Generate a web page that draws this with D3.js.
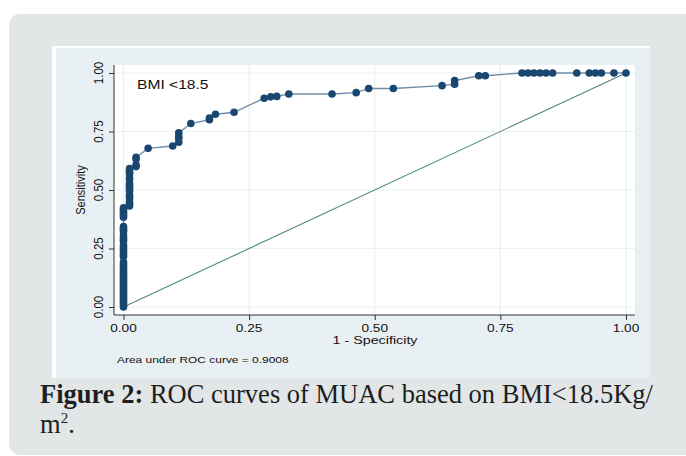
<!doctype html>
<html lang="en">
  <head>
    <meta charset="utf-8"/>
    <title>ROC curve of MUAC</title>
    <script src="https://d3js.org/d3.v7.min.js"></script>
    <style>
      body { margin: 0; background: #fff; }
      svg text { font-family: "Liberation Sans", Arial, sans-serif; fill: #111; }
      .caption { font-family: "Liberation Serif", "Times New Roman", serif; fill: #1e1e1e; }
    </style>
  </head>
  <body>
    <div id="chart"></div>
    <script>
      // ROC points: [1 - specificity, sensitivity]
      var rocPoints = [
        [0, 0], [0, 0.008], [0, 0.016], [0, 0.024], [0, 0.032], [0, 0.04], [0, 0.048],
        [0, 0.056], [0, 0.064], [0, 0.072], [0, 0.08], [0, 0.088], [0, 0.096], [0, 0.104],
        [0, 0.112], [0, 0.12], [0, 0.128], [0, 0.136], [0, 0.144], [0, 0.152], [0, 0.16],
        [0, 0.168], [0, 0.176], [0, 0.184], [0, 0.192], [0, 0.216], [0, 0.224], [0, 0.232],
        [0, 0.24], [0, 0.248], [0, 0.256], [0, 0.264], [0, 0.28], [0, 0.288], [0, 0.296],
        [0, 0.304], [0, 0.32], [0, 0.328], [0, 0.336], [0, 0.344], [0, 0.384], [0, 0.392],
        [0, 0.4], [0, 0.408], [0, 0.416], [0, 0.424],
        [0.012, 0.432], [0.012, 0.44], [0.012, 0.448], [0.012, 0.464], [0.012, 0.472],
        [0.012, 0.48], [0.012, 0.496], [0.012, 0.504], [0.012, 0.512], [0.012, 0.52],
        [0.012, 0.528], [0.012, 0.544], [0.012, 0.552], [0.012, 0.568], [0.012, 0.576],
        [0.012, 0.584], [0.012, 0.592],
        [0.025, 0.6], [0.025, 0.608], [0.025, 0.632], [0.025, 0.64],
        [0.049, 0.678], [0.098, 0.688], [0.11, 0.704], [0.11, 0.72], [0.11, 0.728],
        [0.11, 0.744], [0.134, 0.784], [0.171, 0.8], [0.171, 0.808], [0.183, 0.824],
        [0.22, 0.832], [0.28, 0.892], [0.293, 0.898], [0.305, 0.9], [0.329, 0.91],
        [0.415, 0.91], [0.463, 0.916], [0.488, 0.934], [0.537, 0.934], [0.634, 0.946],
        [0.659, 0.952], [0.659, 0.968], [0.707, 0.988], [0.72, 0.988], [0.793, 1],
        [0.805, 1], [0.817, 1], [0.829, 1], [0.841, 1], [0.854, 1], [0.902, 1],
        [0.927, 1], [0.939, 1], [0.951, 1], [0.976, 1], [1, 1]
      ];
      var refLine = [[0, 0], [1, 1]];
      var xTicks = [0, 0.25, 0.5, 0.75, 1];
      var yTicks = [0, 0.25, 0.5, 0.75, 1];
      var xTitle = "1 - Specificity";
      var yTitle = "Sensitivity";
      var curveLabel = "BMI <18.5";
      var aucNote = "Area under ROC curve = 0.9008";
      var captionBold = "Figure 2:";
      var captionRest = " ROC curves of MUAC based on BMI<18.5Kg/";

      var w = 686;
      var h = 456;
      var stretch = 1.3; // the figure is a little wider than tall

      var svg = d3.select("#chart")
            .append("svg")
            .attr("width", w)
            .attr("height", h);

      //Grey card behind figure + caption
      svg.append("rect")
        .attr("x", 9).attr("y", 14)
        .attr("width", 700).attr("height", 441)
        .attr("rx", 11)
        .attr("fill", "#e2e6e7");

      //Stata graph region
      svg.append("rect")
        .attr("x", 52).attr("y", 46)
        .attr("width", 598).attr("height", 332)
        .attr("fill", "#ffffff");
      svg.append("rect")
        .attr("x", 56).attr("y", 48)
        .attr("width", 594).attr("height", 330)
        .attr("fill", "#e9f0f3");

      //Plot region
      svg.append("rect")
        .attr("x", 114).attr("y", 65)
        .attr("width", 521).attr("height", 250)
        .attr("fill", "#ffffff");

      //Scales
      var xScale = d3.scaleLinear().domain([0, 1]).range([123.5, 626]);
      var yScale = d3.scaleLinear().domain([0, 1]).range([307, 73]);

      //Grid lines
      svg.selectAll("line.gx")
        .data(xTicks)
        .enter()
        .append("line")
        .attr("class", "gx")
        .attr("x1", function(d) { return xScale(d); })
        .attr("x2", function(d) { return xScale(d); })
        .attr("y1", 65).attr("y2", 315)
        .attr("stroke", "#eaf1f3")
        .attr("stroke-width", 1.2);
      svg.selectAll("line.gy")
        .data(yTicks)
        .enter()
        .append("line")
        .attr("class", "gy")
        .attr("x1", 114).attr("x2", 635)
        .attr("y1", function(d) { return yScale(d); })
        .attr("y2", function(d) { return yScale(d); })
        .attr("stroke", "#eaf1f3")
        .attr("stroke-width", 1.2);

      //Axes
      var xAxis = d3.axisBottom(xScale).tickValues(xTicks).tickSize(5).tickFormat("");
      var yAxis = d3.axisLeft(yScale).tickValues(yTicks).tickSize(5).tickFormat("");

      svg.append("g")
        .attr("transform", "translate(0,315)")
        .call(xAxis)
        .call(function(g) {
          g.select(".domain").attr("d", "M114,0H635").attr("stroke", "#333");
          g.selectAll(".tick line").attr("stroke", "#333");
        });
      svg.append("g")
        .attr("transform", "translate(114,0)")
        .call(yAxis)
        .call(function(g) {
          g.select(".domain").attr("d", "M0,65V315").attr("stroke", "#333");
          g.selectAll(".tick line").attr("stroke", "#333");
        });

      //Tick labels
      svg.selectAll("text.xt")
        .data(xTicks)
        .enter()
        .append("text")
        .attr("class", "xt")
        .attr("transform", function(d) {
          return "translate(" + xScale(d) + ",332) scale(" + stretch + ",1)";
        })
        .attr("text-anchor", "middle")
        .attr("font-size", "10.5px")
        .text(function(d) { return d3.format(".2f")(d); });

      svg.selectAll("text.yt")
        .data(yTicks)
        .enter()
        .append("text")
        .attr("class", "yt")
        .attr("transform", function(d) {
          return "translate(103," + yScale(d) + ") scale(1.1,1) rotate(-90)";
        })
        .attr("text-anchor", "middle")
        .attr("font-size", "11.5px")
        .text(function(d) { return d3.format(".2f")(d); });

      //Axis titles
      svg.append("text")
        .attr("transform", "translate(375,344) scale(" + stretch + ",1)")
        .attr("text-anchor", "middle")
        .attr("font-size", "11px")
        .text(xTitle);
      svg.append("text")
        .attr("transform", "translate(85,190) scale(1.1,1) rotate(-90)")
        .attr("text-anchor", "middle")
        .attr("font-size", "11px")
        .text(yTitle);

      //Reference diagonal
      var line = d3.line()
            .x(function(d) { return xScale(d[0]); })
            .y(function(d) { return yScale(d[1]); });

      svg.append("path")
        .datum(refLine)
        .attr("d", line)
        .attr("fill", "none")
        .attr("stroke", "#4f8a78")
        .attr("stroke-width", 1.1);

      //ROC curve
      svg.append("path")
        .datum(rocPoints)
        .attr("d", line)
        .attr("fill", "none")
        .attr("stroke", "#6f8daa")
        .attr("stroke-width", 1.4);

      svg.selectAll("circle")
        .data(rocPoints)
        .enter()
        .append("circle")
        .attr("cx", function(d) { return xScale(d[0]); })
        .attr("cy", function(d) { return yScale(d[1]); })
        .attr("r", 3.8)
        .attr("fill", "#1a476f");

      //Labels inside and under plot
      svg.append("text")
        .attr("transform", "translate(137,89) scale(" + stretch + ",1)")
        .attr("font-size", "12px")
        .text(curveLabel);
      svg.append("text")
        .attr("transform", "translate(117,363) scale(" + stretch + ",1)")
        .attr("font-size", "9.2px")
        .text(aucNote);

      //Caption
      var cap = svg.append("text")
        .attr("class", "caption")
        .attr("x", 40).attr("y", 403)
        .attr("font-size", "26.5px");
      cap.append("tspan").attr("font-weight", "bold").text(captionBold);
      cap.append("tspan").text(captionRest);

      var cap2 = svg.append("text")
        .attr("class", "caption")
        .attr("x", 40).attr("y", 433)
        .attr("font-size", "26.5px");
      cap2.append("tspan").text("m");
      cap2.append("tspan").attr("font-size", "15px").attr("dy", -10).text("2");
      cap2.append("tspan").attr("dy", 10).text(".");
    </script>
  </body>
</html>
